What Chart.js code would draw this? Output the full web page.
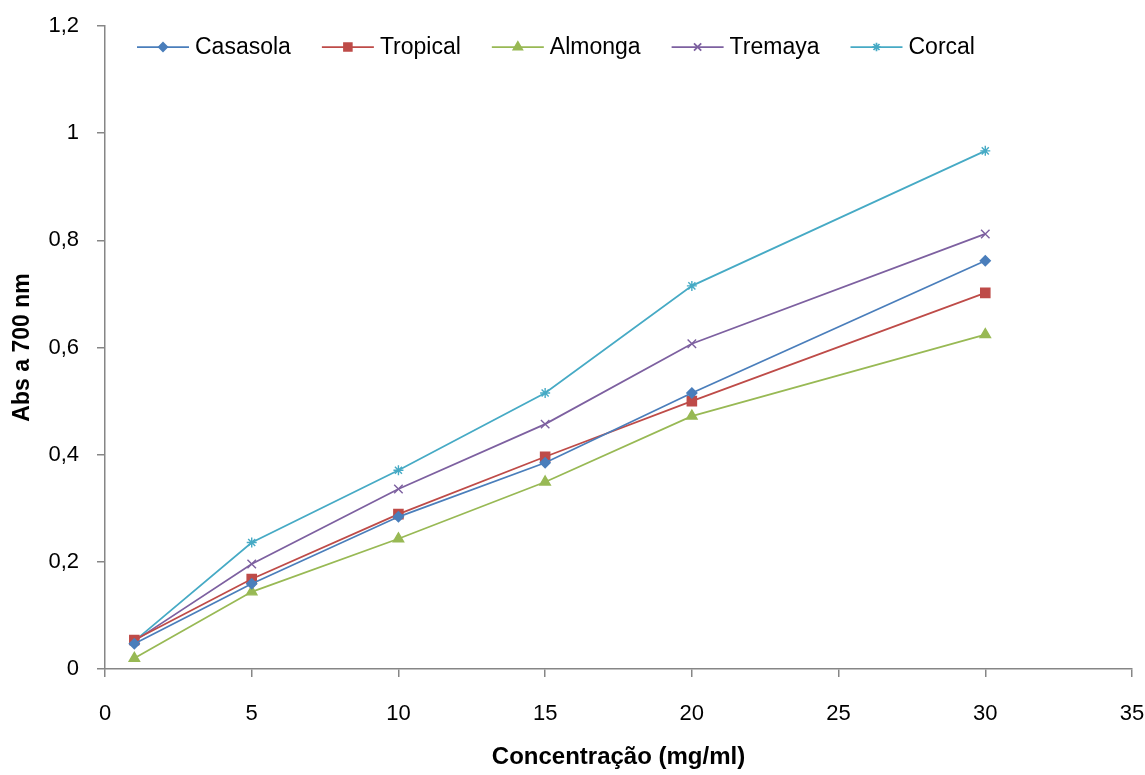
<!DOCTYPE html>
<html>
<head>
<meta charset="utf-8">
<script src="https://cdn.jsdelivr.net/npm/chart.js@4"></script>
<style>
  html, body { margin: 0; padding: 0; background: #fff; }
  #wrap { width: 1145px; height: 775px; }
</style>
</head>
<body>
<div id="wrap"><canvas id="chart" width="1145" height="775"></canvas></div>
<script>
// dados
const concentracoes = [1, 5, 10, 15, 20, 30];
const casasola = [0.047, 0.159, 0.284, 0.385, 0.515, 0.762];
const tropical = [0.054, 0.168, 0.289, 0.396, 0.500, 0.702];
const almonga = [0.020, 0.144, 0.243, 0.349, 0.472, 0.624];
const tremaya = [0.052, 0.196, 0.336, 0.457, 0.607, 0.812];
const corcal = [0.052, 0.236, 0.371, 0.515, 0.715, 0.967];
const nomes = ["Casasola", "Tropical", "Almonga", "Tremaya", "Corcal"];

const FONT = "'Liberation Sans', 'DejaVu Sans', sans-serif";
const GREY = "#868686";

const series = [casasola, tropical, almonga, tremaya, corcal];
const cores = ["#4A7EBB", "#BE4B48", "#98B954", "#7D60A0", "#46AAC5"];
const marcadores = ["rectRot", "rect", "triangle", "crossRot", "star"];
const raios = [5, 6.5, 6, 6, 5];

const datasets = series.map((valores, i) => ({
  label: nomes[i],
  data: concentracoes.map((x, j) => ({ x: x, y: valores[j] })),
  borderColor: cores[i],
  backgroundColor: cores[i],
  borderWidth: 1.75,
  pointStyle: marcadores[i],
  pointRadius: raios[i],
  pointBorderWidth: 1.4,
  tension: 0
}));

// legenda desenhada à mão, dentro da área do gráfico (como no Excel)
const legendaExcel = {
  id: "legendaExcel",
  afterDraw(chart) {
    const ctx = chart.ctx;
    let x = chart.chartArea.left + 32;
    const y = 47;
    ctx.save();
    ctx.font = "23px " + FONT;
    ctx.textBaseline = "middle";
    chart.data.datasets.forEach((ds) => {
      ctx.strokeStyle = ds.borderColor;
      ctx.fillStyle = ds.borderColor;
      ctx.lineWidth = 1.75;
      ctx.beginPath(); ctx.moveTo(x, y); ctx.lineTo(x + 52, y); ctx.stroke();
      Chart.helpers.drawPoint(ctx, { pointStyle: ds.pointStyle, radius: ds.pointRadius * 0.85, rotation: 0, borderWidth: 1.4 }, x + 26, y);
      ctx.fillStyle = "#000";
      ctx.fillText(ds.label, x + 58, y + 1);
      x += 58 + ctx.measureText(ds.label).width + 31;
    });
    ctx.restore();
  }
};

new Chart(document.getElementById("chart"), {
  type: "line",
  data: { datasets: datasets },
  plugins: [legendaExcel],
  options: {
    responsive: false,
    animation: false,
    layout: { padding: { left: 0, top: 26, right: 13, bottom: 0 } },
    plugins: {
      legend: { display: false },
      tooltip: { enabled: false }
    },
    scales: {
      x: {
        type: "linear",
        min: 0, max: 35,
        ticks: { stepSize: 5, color: "#000", font: { family: FONT, size: 22 }, padding: 24 },
        grid: { drawOnChartArea: false, color: GREY, tickLength: 8, lineWidth: 1.5 },
        border: { color: GREY, width: 1.5 },
        title: { display: true, text: "Concentração (mg/ml)", color: "#000", font: { family: FONT, size: 24, weight: "bold" }, padding: { top: 0, bottom: 3 } },
        afterFit: (s) => { s.height = 106; s.paddingLeft = 0; s.paddingRight = 0; }
      },
      y: {
        min: 0, max: 1.2,
        ticks: {
          stepSize: 0.2, color: "#000", font: { family: FONT, size: 22 }, padding: 18,
          callback: (v) => String(Math.round(v * 10) / 10).replace(".", ",")
        },
        grid: { drawOnChartArea: false, color: GREY, tickLength: 8, lineWidth: 1.5 },
        border: { color: GREY, width: 1.5 },
        title: { display: true, text: "Abs a 700 nm", color: "#000", font: { family: FONT, size: 23, weight: "bold" }, padding: { top: 9, bottom: 0 } },
        afterFit: (s) => { s.width = 105; s.paddingTop = 0; s.paddingBottom = 0; }
      }
    }
  }
});
</script>
</body>
</html>
